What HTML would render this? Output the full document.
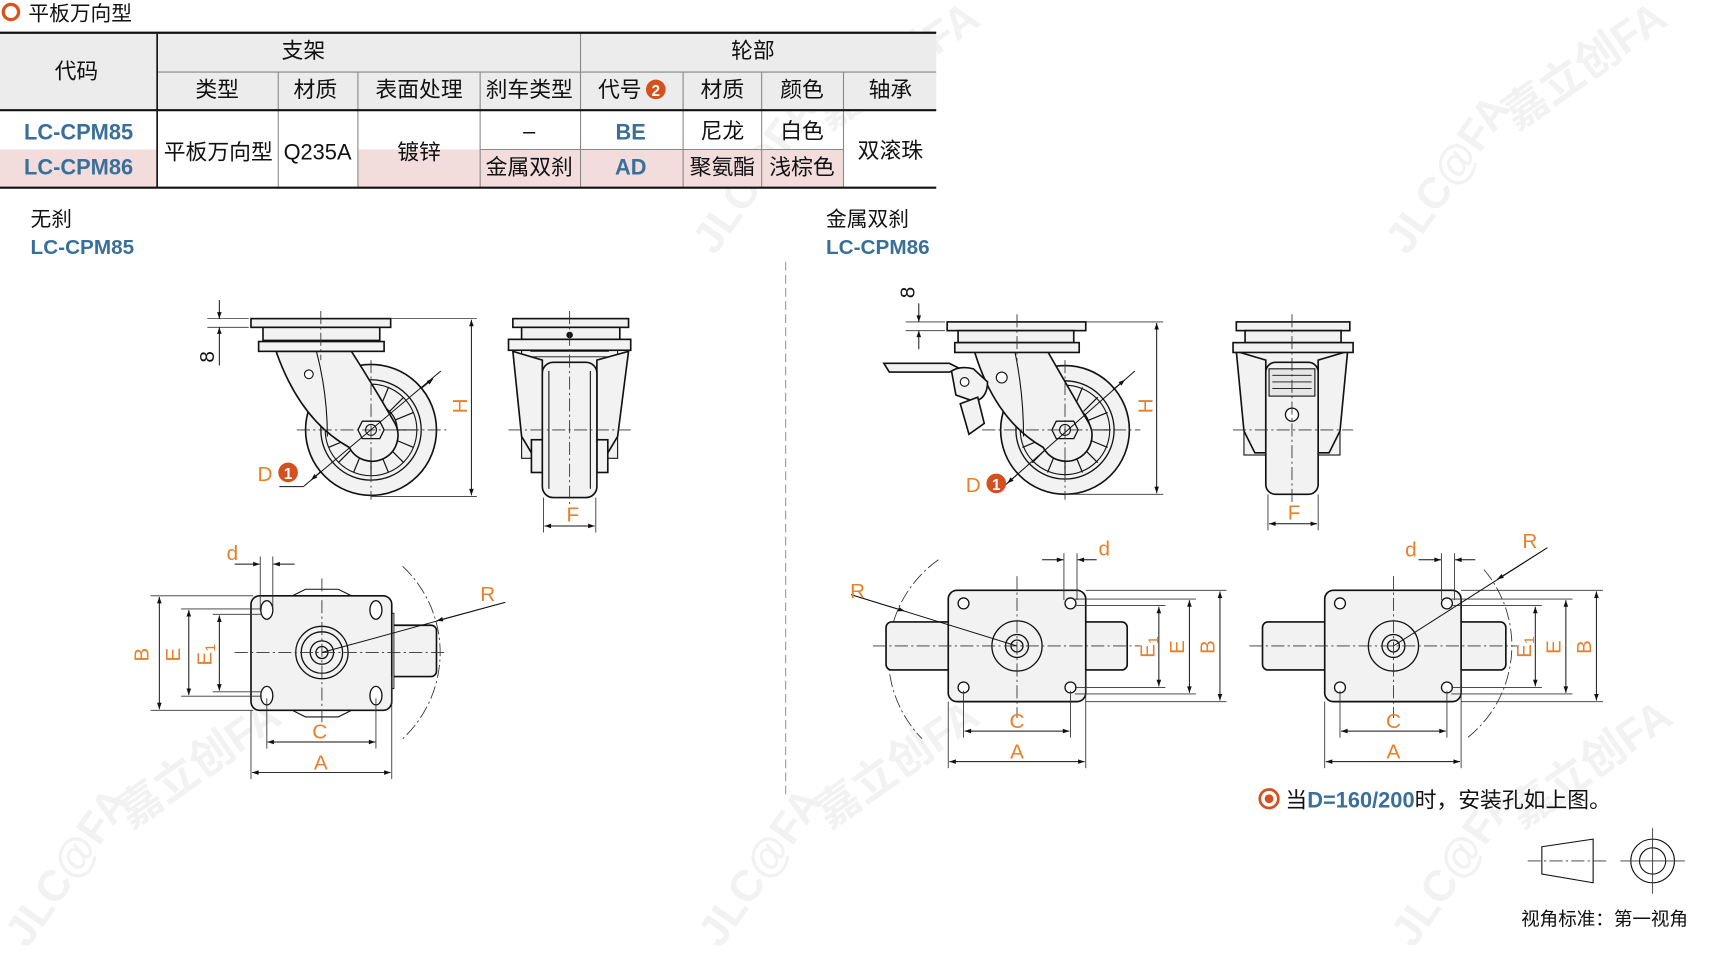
<!DOCTYPE html>
<html><head><meta charset="utf-8"><style>
html,body{margin:0;padding:0;background:#fff;}
svg{display:block;}
text{font-family:"Liberation Sans","Noto Sans CJK SC",sans-serif;}
.cj{font-family:"Noto Sans CJK SC","Liberation Sans",sans-serif;}
.o{fill:#e8802a;font-size:19px;font-family:"Liberation Sans",sans-serif;}
.ln{stroke:#111;stroke-width:1;fill:none;}
.dm{stroke:#111;stroke-width:0.9;fill:none;}
.ex{stroke:#333;stroke-width:0.8;fill:none;}
.cl{stroke:#333;stroke-width:0.8;fill:none;stroke-dasharray:12 3 2 3;}
.pt{fill:#f2f2f2;stroke:#111;stroke-width:1.5;}
.wm{fill:#f2f2f2;font-weight:bold;}
</style></head><body>
<svg width="1711" height="955" viewBox="0 0 1568 875.2" xmlns="http://www.w3.org/2000/svg">
<defs>
<marker id="a" viewBox="0 0 10 10" refX="10" refY="5" markerWidth="9" markerHeight="6" orient="auto-start-reverse" markerUnits="userSpaceOnUse"><path d="M0,1.5 L10,5 L0,8.5 Z" fill="#111"/></marker>
</defs>

<!-- watermarks -->
<g class="wm cj">
<text x="0" y="0" font-size="40" transform="translate(655,235) rotate(-55)">JLC@FA</text>
<text x="0" y="0" font-size="40" transform="translate(760,120) rotate(-35)">嘉立创FA</text>
<text x="0" y="0" font-size="40" transform="translate(1290,235) rotate(-55)">JLC@FA</text>
<text x="0" y="0" font-size="40" transform="translate(1390,120) rotate(-35)">嘉立创FA</text>
<text x="0" y="0" font-size="40" transform="translate(25,870) rotate(-55)">JLC@FA</text>
<text x="0" y="0" font-size="40" transform="translate(120,760) rotate(-35)">嘉立创FA</text>
<text x="0" y="0" font-size="40" transform="translate(660,870) rotate(-55)">JLC@FA</text>
<text x="0" y="0" font-size="40" transform="translate(760,760) rotate(-35)">嘉立创FA</text>
<text x="0" y="0" font-size="40" transform="translate(1295,870) rotate(-55)">JLC@FA</text>
<text x="0" y="0" font-size="40" transform="translate(1395,760) rotate(-35)">嘉立创FA</text>
</g>

<!-- title -->
<circle cx="10" cy="11" r="7" fill="none" stroke="#d9531e" stroke-width="3"/>
<text x="26" y="19" font-size="19" class="cj" fill="#111">平板万向型</text>

<!-- table -->
<rect x="0" y="31" width="858" height="70" fill="#ececec"/>
<rect x="0" y="137" width="144" height="35" fill="#f2dcdc"/>
<rect x="328" y="137" width="445" height="35" fill="#f2dcdc"/>
<g stroke="#888" stroke-width="1">
<line x1="144" y1="66" x2="858" y2="66"/>
<line x1="532" y1="31" x2="532" y2="172"/>
<line x1="255" y1="66" x2="255" y2="172"/>
<line x1="328" y1="66" x2="328" y2="172"/>
<line x1="440" y1="66" x2="440" y2="172"/>
<line x1="626" y1="66" x2="626" y2="172"/>
<line x1="698" y1="66" x2="698" y2="172"/>
<line x1="773" y1="66" x2="773" y2="172"/>
<line x1="440" y1="137" x2="773" y2="137"/>
</g>
<line x1="144" y1="31" x2="144" y2="172" stroke="#111" stroke-width="1.5"/>
<line x1="0" y1="30" x2="858" y2="30" stroke="#111" stroke-width="2"/>
<line x1="0" y1="101" x2="858" y2="101" stroke="#111" stroke-width="2"/>
<line x1="0" y1="172" x2="858" y2="172" stroke="#111" stroke-width="2"/>
<g class="cj" font-size="20" fill="#111" text-anchor="middle">
<text x="70" y="72">代码</text>
<text x="278" y="53">支架</text>
<text x="690" y="53">轮部</text>
<text x="199" y="89">类型</text>
<text x="289" y="89">材质</text>
<text x="384" y="89">表面处理</text>
<text x="485" y="89">刹车类型</text>
<text x="568" y="89">代号</text>
<text x="662" y="89">材质</text>
<text x="735" y="89">颜色</text>
<text x="816" y="89">轴承</text>
<text x="200" y="146">平板万向型</text>
<text x="291" y="146">Q235A</text>
<text x="384" y="146">镀锌</text>
<text x="485" y="127">–</text>
<text x="485" y="160">金属双刹</text>
<text x="662" y="127">尼龙</text>
<text x="662" y="160">聚氨酯</text>
<text x="735" y="127">白色</text>
<text x="735" y="160">浅棕色</text>
<text x="816" y="145">双滚珠</text>
</g>
<circle cx="601" cy="82" r="9" fill="#d4501e"/>
<text x="601" y="88" font-size="14" font-weight="bold" fill="#fff" text-anchor="middle">2</text>
<g font-size="20" font-weight="bold" fill="#3a6f9a" text-anchor="middle">
<text x="72" y="128">LC-CPM85</text>
<text x="72" y="160">LC-CPM86</text>
<text x="578" y="128">BE</text>
<text x="578" y="160">AD</text>
</g>

<!-- section labels -->
<text x="28" y="207" font-size="19" class="cj" fill="#111">无刹</text>
<text x="28" y="233" font-size="19" font-weight="bold" fill="#3a6f9a">LC-CPM85</text>
<text x="757" y="207" font-size="19" class="cj" fill="#111">金属双刹</text>
<text x="757" y="233" font-size="19" font-weight="bold" fill="#3a6f9a">LC-CPM86</text>
<line x1="720" y1="240" x2="720" y2="730" stroke="#999" stroke-width="1" stroke-dasharray="8 4"/>

<!-- ===== LEFT SIDE VIEW ===== -->
<g id="sv1">
<circle cx="340" cy="394" r="60" class="pt" stroke-width="2"/>
<circle cx="340" cy="394" r="46" fill="none" stroke="#111" stroke-width="1.2"/>
<circle cx="340" cy="394" r="42" fill="none" stroke="#111" stroke-width="1"/>
<g stroke="#111" stroke-width="1.1">
<line x1="364" y1="394" x2="382" y2="394"/><line x1="362" y1="403" x2="379" y2="410"/><line x1="357" y1="411" x2="370" y2="424"/><line x1="349" y1="416" x2="356" y2="433"/><line x1="340" y1="418" x2="340" y2="436"/><line x1="331" y1="416" x2="324" y2="433"/><line x1="323" y1="411" x2="310" y2="424"/><line x1="318" y1="403" x2="301" y2="410"/><line x1="316" y1="394" x2="298" y2="394"/><line x1="318" y1="385" x2="301" y2="378"/><line x1="323" y1="377" x2="310" y2="364"/><line x1="331" y1="372" x2="324" y2="355"/><line x1="340" y1="370" x2="340" y2="352"/><line x1="349" y1="372" x2="356" y2="355"/><line x1="357" y1="377" x2="370" y2="364"/><line x1="362" y1="385" x2="379" y2="378"/>
</g>
<circle cx="340" cy="394" r="24" fill="#f2f2f2" stroke="#111" stroke-width="1.2"/>
<path d="M253 322 L322 322 Q340 350 362 388 A23 23 0 0 1 320 410 Q275 385 253 322 Z" class="pt"/>
<path d="M290 322 Q300 360 300 400" class="ln" stroke-width="1.2"/>
<polygon points="332,386 348,386 352,394 348,402 332,402 328,394" fill="#f2f2f2" stroke="#111" stroke-width="1.2"/>
<circle cx="340" cy="394" r="5" fill="none" stroke="#111"/>
<circle cx="283" cy="343" r="4" fill="#fff" stroke="#111"/>
<rect x="230" y="292" width="128" height="8" class="pt"/>
<rect x="241" y="300" width="107" height="12" class="pt"/>
<rect x="237" y="313" width="115" height="9" class="pt"/>
<line x1="294" y1="285" x2="294" y2="330" class="cl"/>
<line x1="340" y1="330" x2="340" y2="458" class="cl"/>
<line x1="272" y1="394" x2="412" y2="394" class="cl"/>
<line x1="358" y1="292" x2="437" y2="292" class="ex"/>
<line x1="340" y1="455" x2="437" y2="455" class="ex"/>
<line x1="432" y1="293" x2="432" y2="454" class="dm" marker-start="url(#a)" marker-end="url(#a)"/>
<text class="o" transform="translate(428,372) rotate(-90)" text-anchor="middle">H</text>
<line x1="190" y1="292" x2="228" y2="292" class="ex"/>
<line x1="190" y1="300" x2="228" y2="300" class="ex"/>
<line x1="201" y1="275" x2="201" y2="292" class="dm" marker-end="url(#a)"/>
<line x1="201" y1="335" x2="201" y2="300" class="dm" marker-end="url(#a)"/>
<text class="o" transform="translate(196,327) rotate(-90)" text-anchor="middle" style="fill:#111">8</text>
<line x1="404" y1="340" x2="278" y2="446" class="dm"/>
<line x1="386" y1="356" x2="397" y2="347" class="dm" marker-end="url(#a)"/>
<line x1="294" y1="432" x2="285" y2="440" class="dm" marker-end="url(#a)"/>
<line x1="278" y1="446" x2="256" y2="446" class="dm"/>
<text class="o" x="236" y="441">D</text>
<circle cx="264" cy="433" r="9" fill="#d4501e"/>
<text x="264" y="439" font-size="14" font-weight="bold" fill="#fff" text-anchor="middle">1</text>
</g>

<!-- LEFT FRONT VIEW -->
<g>
<rect x="478" y="320" width="88" height="100" fill="#f2f2f2" stroke="#111" stroke-width="1"/>
<path d="M470 322 L478 400 L490 420 L497 420 L497 330 Z" class="pt" stroke-width="1.2"/>
<path d="M576 322 L566 400 L554 420 L547 420 L547 330 Z" class="pt" stroke-width="1.2"/>
<rect x="487" y="403" width="10" height="30" class="pt" stroke-width="1"/>
<rect x="547" y="403" width="10" height="30" class="pt" stroke-width="1"/>
<rect x="497" y="332" width="50" height="124" rx="10" class="pt"/>
<line x1="503" y1="340" x2="503" y2="448" class="ln" stroke-width="0.8"/>
<line x1="541" y1="340" x2="541" y2="448" class="ln" stroke-width="0.8"/>
<rect x="470" y="292" width="106" height="8" class="pt"/>
<rect x="478" y="300" width="90" height="11" class="pt"/>
<rect x="466" y="311" width="112" height="10" class="pt"/>
<circle cx="522" cy="307" r="3" fill="#111"/>
<g stroke="#111" stroke-width="0.8"><line x1="486" y1="322" x2="558" y2="322"/><line x1="486" y1="327" x2="558" y2="327"/></g>
<line x1="522" y1="285" x2="522" y2="462" class="cl"/>
<line x1="466" y1="394" x2="578" y2="394" class="cl"/>
<line x1="498" y1="456" x2="498" y2="488" class="ex"/>
<line x1="546" y1="456" x2="546" y2="488" class="ex"/>
<line x1="499" y1="482" x2="545" y2="482" class="dm" marker-start="url(#a)" marker-end="url(#a)"/>
<text class="o" x="525" y="478" text-anchor="middle">F</text>
</g>

<!-- LEFT TOP VIEW -->
<g>
<path d="M369 519 A108 108 0 0 1 369 677" class="cl"/>
<path d="M268 546 L280 540 L310 540 L322 546" class="ln"/>
<path d="M268 651 L280 657 L310 657 L322 651" class="ln"/>
<rect x="355" y="573" width="45" height="47" rx="5" class="pt" stroke-width="1.2"/>
<rect x="356" y="562" width="5" height="69" fill="#eee" stroke="#111" stroke-width="0.8"/>
<rect x="230" y="546" width="129" height="105" rx="8" class="pt"/>
<g fill="#fff" stroke="#111" stroke-width="1.2">
<ellipse cx="244.5" cy="559" rx="5.5" ry="8.5"/><ellipse cx="344.5" cy="559" rx="5.5" ry="8.5"/>
<ellipse cx="244.5" cy="637.5" rx="5.5" ry="8.5"/><ellipse cx="344.5" cy="637.5" rx="5.5" ry="8.5"/>
</g>
<g fill="none" stroke="#111" stroke-width="1.2">
<circle cx="295" cy="598" r="24"/><circle cx="295" cy="598" r="19"/><circle cx="295" cy="598" r="10.7"/><circle cx="295" cy="598" r="5.5"/>
</g>
<line x1="295" y1="530" x2="295" y2="665" class="cl"/>
<line x1="215" y1="598" x2="410" y2="598" class="cl"/>
<line x1="138" y1="546" x2="232" y2="546" class="ex"/>
<line x1="138" y1="651" x2="232" y2="651" class="ex"/>
<line x1="146" y1="547" x2="146" y2="650" class="dm" marker-start="url(#a)" marker-end="url(#a)"/>
<text class="o" transform="translate(136,600) rotate(-90)" text-anchor="middle">B</text>
<line x1="166" y1="558" x2="240" y2="558" class="ex"/>
<line x1="166" y1="638" x2="240" y2="638" class="ex"/>
<line x1="173" y1="559" x2="173" y2="637" class="dm" marker-start="url(#a)" marker-end="url(#a)"/>
<text class="o" transform="translate(165,600) rotate(-90)" text-anchor="middle">E</text>
<line x1="195" y1="563" x2="240" y2="563" class="ex"/>
<line x1="195" y1="634" x2="240" y2="634" class="ex"/>
<line x1="201" y1="564" x2="201" y2="633" class="dm" marker-start="url(#a)" marker-end="url(#a)"/>
<text class="o" transform="translate(194,600) rotate(-90)" text-anchor="middle">E<tspan font-size="13" dy="3">1</tspan></text>
<line x1="238.5" y1="510" x2="238.5" y2="560" class="ex"/>
<line x1="250" y1="510" x2="250" y2="560" class="ex"/>
<line x1="215" y1="517" x2="238" y2="517" class="dm" marker-end="url(#a)"/>
<line x1="270" y1="517" x2="250.5" y2="517" class="dm" marker-end="url(#a)"/>
<text class="o" x="213" y="513" text-anchor="middle">d</text>
<line x1="244.5" y1="640" x2="244.5" y2="686" class="ex"/>
<line x1="344.5" y1="640" x2="344.5" y2="686" class="ex"/>
<line x1="245" y1="680" x2="344" y2="680" class="dm" marker-start="url(#a)" marker-end="url(#a)"/>
<text class="o" x="293" y="677" text-anchor="middle">C</text>
<line x1="230" y1="651" x2="230" y2="714" class="ex"/>
<line x1="359" y1="620" x2="359" y2="714" class="ex"/>
<line x1="231" y1="708" x2="358" y2="708" class="dm" marker-start="url(#a)" marker-end="url(#a)"/>
<text class="o" x="294" y="705" text-anchor="middle">A</text>
<line x1="295" y1="598" x2="463" y2="552" class="dm"/>
<line x1="463" y1="552" x2="400" y2="569" class="dm" marker-end="url(#a)"/>
<text class="o" x="447" y="551" text-anchor="middle">R</text>
</g>

<!-- ===== RIGHT SIDE VIEW (brake) ===== -->
<g>
<circle cx="976" cy="394" r="59" class="pt" stroke-width="2"/>
<circle cx="976" cy="394" r="45" fill="none" stroke="#111" stroke-width="1.2"/>
<circle cx="976" cy="394" r="41" fill="none" stroke="#111" stroke-width="1"/>
<g stroke="#111" stroke-width="1.1" transform="translate(636,0)">
<line x1="364" y1="394" x2="382" y2="394"/><line x1="362" y1="403" x2="379" y2="410"/><line x1="357" y1="411" x2="370" y2="424"/><line x1="349" y1="416" x2="356" y2="433"/><line x1="340" y1="418" x2="340" y2="436"/><line x1="331" y1="416" x2="324" y2="433"/><line x1="323" y1="411" x2="310" y2="424"/><line x1="318" y1="403" x2="301" y2="410"/><line x1="316" y1="394" x2="298" y2="394"/><line x1="318" y1="385" x2="301" y2="378"/><line x1="323" y1="377" x2="310" y2="364"/><line x1="331" y1="372" x2="324" y2="355"/><line x1="340" y1="370" x2="340" y2="352"/><line x1="349" y1="372" x2="356" y2="355"/><line x1="357" y1="377" x2="370" y2="364"/><line x1="362" y1="385" x2="379" y2="378"/>
</g>
<circle cx="976" cy="394" r="23" fill="#f2f2f2" stroke="#111" stroke-width="1.2"/>
<path d="M893 322 L960 322 Q976 350 998 388 A23 23 0 0 1 956 410 Q912 385 893 322 Z" class="pt"/>
<path d="M930 322 Q938 360 938 400" class="ln" stroke-width="1.2"/>
<polygon points="968,386 984,386 988,394 984,402 968,402 964,394" fill="#f2f2f2" stroke="#111" stroke-width="1.2"/>
<circle cx="976" cy="394" r="5" fill="none" stroke="#111"/>
<path d="M810 333 L870 333 L880 338 L870 341 L815 341 Z" class="pt" stroke-width="1.2"/>
<path d="M872 340 Q880 335 892 338 L905 350 Q905 365 893 368 L876 362 Z" class="pt" stroke-width="1.2"/>
<circle cx="884" cy="350" r="4" fill="#fff" stroke="#111"/>
<circle cx="918" cy="346" r="5" fill="#fff" stroke="#111"/>
<path d="M880 370 L896 364 L902 388 L888 398 Z" class="pt" stroke-width="1.2"/>
<rect x="868" y="295" width="127" height="8" class="pt"/>
<rect x="878" y="303" width="106" height="11" class="pt"/>
<rect x="875" y="314" width="114" height="9" class="pt"/>
<line x1="932" y1="288" x2="932" y2="332" class="cl"/>
<line x1="976" y1="330" x2="976" y2="458" class="cl"/>
<line x1="900" y1="394" x2="1045" y2="394" class="cl"/>
<line x1="995" y1="295" x2="1066" y2="295" class="ex"/>
<line x1="976" y1="453" x2="1066" y2="453" class="ex"/>
<line x1="1060" y1="296" x2="1060" y2="452" class="dm" marker-start="url(#a)" marker-end="url(#a)"/>
<text class="o" transform="translate(1056,372) rotate(-90)" text-anchor="middle">H</text>
<line x1="830" y1="295" x2="866" y2="295" class="ex"/>
<line x1="830" y1="303" x2="866" y2="303" class="ex"/>
<line x1="842" y1="278" x2="842" y2="295" class="dm" marker-end="url(#a)"/>
<line x1="842" y1="320" x2="842" y2="303" class="dm" marker-end="url(#a)"/>
<text class="o" transform="translate(838,268) rotate(-90)" text-anchor="middle" style="fill:#111">8</text>
<line x1="1040" y1="340" x2="915" y2="450" class="dm"/>
<line x1="1020" y1="357" x2="1031" y2="348" class="dm" marker-end="url(#a)"/>
<line x1="932" y1="435" x2="923" y2="443" class="dm" marker-end="url(#a)"/>
<text class="o" x="885" y="451">D</text>
<circle cx="913" cy="443" r="9" fill="#d4501e"/>
<text x="913" y="449" font-size="14" font-weight="bold" fill="#fff" text-anchor="middle">1</text>
</g>

<!-- RIGHT FRONT VIEW -->
<g>
<rect x="1140" y="322" width="88" height="95" fill="#f2f2f2" stroke="#111" stroke-width="1"/>
<path d="M1133 322 L1140 395 L1150 415 L1160 415 L1160 330 Z" class="pt" stroke-width="1.2"/>
<path d="M1235 322 L1228 395 L1218 415 L1208 415 L1208 330 Z" class="pt" stroke-width="1.2"/>
<rect x="1160" y="332" width="48" height="121" rx="9" class="pt"/>
<rect x="1163" y="338" width="42" height="25" fill="#e6e6e6" stroke="#111" stroke-width="1"/>
<g stroke="#111" stroke-width="0.8"><line x1="1166" y1="344" x2="1202" y2="344"/><line x1="1166" y1="350" x2="1202" y2="350"/><line x1="1166" y1="356" x2="1202" y2="356"/></g>
<rect x="1133" y="295" width="104" height="8" class="pt"/>
<rect x="1141" y="303" width="88" height="11" class="pt"/>
<rect x="1130" y="314" width="110" height="9" class="pt"/>
<circle cx="1184" cy="380" r="6" fill="#fff" stroke="#111" stroke-width="1.2"/>
<line x1="1184" y1="288" x2="1184" y2="460" class="cl"/>
<line x1="1130" y1="394" x2="1240" y2="394" class="cl"/>
<line x1="1162" y1="453" x2="1162" y2="486" class="ex"/>
<line x1="1208" y1="453" x2="1208" y2="486" class="ex"/>
<line x1="1163" y1="480" x2="1207" y2="480" class="dm" marker-start="url(#a)" marker-end="url(#a)"/>
<text class="o" x="1186" y="476" text-anchor="middle">F</text>
</g>

<!-- RIGHT TOP VIEW 1 -->
<g>
<path d="M860 513 A108 108 0 0 0 845 677" class="cl"/>
<rect x="812" y="570" width="62" height="44" rx="5" class="pt" stroke-width="1.2"/>
<rect x="990" y="570" width="43" height="44" rx="5" class="pt" stroke-width="1.2"/>
<rect x="869" y="541" width="126" height="102" rx="8" class="pt"/>
<g fill="#fff" stroke="#111" stroke-width="1.2">
<circle cx="883" cy="553" r="5"/><circle cx="981" cy="553" r="5"/><circle cx="883" cy="630" r="5"/><circle cx="981" cy="630" r="5"/>
</g>
<g fill="none" stroke="#111" stroke-width="1.2"><circle cx="932" cy="592" r="23"/><circle cx="932" cy="592" r="10.5"/><circle cx="932" cy="592" r="5.5"/></g>
<line x1="932" y1="528" x2="932" y2="658" class="cl"/>
<line x1="800" y1="592" x2="1045" y2="592" class="cl"/>
<line x1="985" y1="555" x2="1068" y2="555" class="ex"/>
<line x1="985" y1="630" x2="1068" y2="630" class="ex"/>
<line x1="1062" y1="556" x2="1062" y2="629" class="dm" marker-start="url(#a)" marker-end="url(#a)"/>
<text class="o" transform="translate(1058,593) rotate(-90)" text-anchor="middle">E<tspan font-size="13" dy="3">1</tspan></text>
<line x1="985" y1="549" x2="1096" y2="549" class="ex"/>
<line x1="985" y1="636" x2="1096" y2="636" class="ex"/>
<line x1="1090" y1="550" x2="1090" y2="635" class="dm" marker-start="url(#a)" marker-end="url(#a)"/>
<text class="o" transform="translate(1085,593) rotate(-90)" text-anchor="middle">E</text>
<line x1="995" y1="541" x2="1124" y2="541" class="ex"/>
<line x1="995" y1="643" x2="1124" y2="643" class="ex"/>
<line x1="1118" y1="542" x2="1118" y2="642" class="dm" marker-start="url(#a)" marker-end="url(#a)"/>
<text class="o" transform="translate(1113,593) rotate(-90)" text-anchor="middle">B</text>
<line x1="975" y1="507" x2="975" y2="550" class="ex"/>
<line x1="987" y1="507" x2="987" y2="550" class="ex"/>
<line x1="955" y1="513" x2="974.5" y2="513" class="dm" marker-end="url(#a)"/>
<line x1="1005" y1="513" x2="987.5" y2="513" class="dm" marker-end="url(#a)"/>
<text class="o" x="1012" y="509" text-anchor="middle">d</text>
<line x1="883" y1="633" x2="883" y2="676" class="ex"/>
<line x1="981" y1="633" x2="981" y2="676" class="ex"/>
<line x1="884" y1="670" x2="980" y2="670" class="dm" marker-start="url(#a)" marker-end="url(#a)"/>
<text class="o" x="932" y="667" text-anchor="middle">C</text>
<line x1="869" y1="643" x2="869" y2="704" class="ex"/>
<line x1="995" y1="614" x2="995" y2="704" class="ex"/>
<line x1="870" y1="698" x2="994" y2="698" class="dm" marker-start="url(#a)" marker-end="url(#a)"/>
<text class="o" x="932" y="695" text-anchor="middle">A</text>
<line x1="932" y1="592" x2="780" y2="545" class="dm"/>
<line x1="780" y1="545" x2="829" y2="560" class="dm" marker-end="url(#a)"/>
<text class="o" x="786" y="548" text-anchor="middle">R</text>
</g>

<!-- RIGHT TOP VIEW 2 -->
<g>
<path d="M1360 522 A108 108 0 0 1 1345 676" class="cl"/>
<rect x="1157" y="570" width="62" height="44" rx="5" class="pt" stroke-width="1.2"/>
<rect x="1334" y="570" width="46" height="44" rx="5" class="pt" stroke-width="1.2"/>
<rect x="1214" y="541" width="125" height="102" rx="8" class="pt"/>
<g fill="#fff" stroke="#111" stroke-width="1.2">
<circle cx="1228" cy="553" r="5"/><circle cx="1326" cy="553" r="5"/><circle cx="1228" cy="630" r="5"/><circle cx="1326" cy="630" r="5"/>
</g>
<g fill="none" stroke="#111" stroke-width="1.2"><circle cx="1277" cy="592" r="23"/><circle cx="1277" cy="592" r="10.5"/><circle cx="1277" cy="592" r="5.5"/></g>
<line x1="1277" y1="528" x2="1277" y2="658" class="cl"/>
<line x1="1145" y1="592" x2="1392" y2="592" class="cl"/>
<line x1="1330" y1="555" x2="1413" y2="555" class="ex"/>
<line x1="1330" y1="630" x2="1413" y2="630" class="ex"/>
<line x1="1407" y1="556" x2="1407" y2="629" class="dm" marker-start="url(#a)" marker-end="url(#a)"/>
<text class="o" transform="translate(1403,593) rotate(-90)" text-anchor="middle">E<tspan font-size="13" dy="3">1</tspan></text>
<line x1="1330" y1="549" x2="1441" y2="549" class="ex"/>
<line x1="1330" y1="636" x2="1441" y2="636" class="ex"/>
<line x1="1435" y1="550" x2="1435" y2="635" class="dm" marker-start="url(#a)" marker-end="url(#a)"/>
<text class="o" transform="translate(1430,593) rotate(-90)" text-anchor="middle">E</text>
<line x1="1339" y1="541" x2="1469" y2="541" class="ex"/>
<line x1="1339" y1="643" x2="1469" y2="643" class="ex"/>
<line x1="1463" y1="542" x2="1463" y2="642" class="dm" marker-start="url(#a)" marker-end="url(#a)"/>
<text class="o" transform="translate(1458,593) rotate(-90)" text-anchor="middle">B</text>
<line x1="1321" y1="507" x2="1321" y2="550" class="ex"/>
<line x1="1333" y1="507" x2="1333" y2="550" class="ex"/>
<line x1="1300" y1="513" x2="1320.5" y2="513" class="dm" marker-end="url(#a)"/>
<line x1="1352" y1="513" x2="1333.5" y2="513" class="dm" marker-end="url(#a)"/>
<text class="o" x="1293" y="510" text-anchor="middle">d</text>
<line x1="1228" y1="633" x2="1228" y2="676" class="ex"/>
<line x1="1326" y1="633" x2="1326" y2="676" class="ex"/>
<line x1="1229" y1="670" x2="1325" y2="670" class="dm" marker-start="url(#a)" marker-end="url(#a)"/>
<text class="o" x="1277" y="667" text-anchor="middle">C</text>
<line x1="1214" y1="643" x2="1214" y2="704" class="ex"/>
<line x1="1339" y1="614" x2="1339" y2="704" class="ex"/>
<line x1="1215" y1="698" x2="1338" y2="698" class="dm" marker-start="url(#a)" marker-end="url(#a)"/>
<text class="o" x="1277" y="695" text-anchor="middle">A</text>
<line x1="1277" y1="592" x2="1418" y2="502" class="dm"/>
<line x1="1418" y1="502" x2="1372" y2="531" class="dm" marker-end="url(#a)"/>
<text class="o" x="1402" y="502" text-anchor="middle">R</text>
</g>

<!-- note -->
<circle cx="1163" cy="732" r="8.5" fill="none" stroke="#d4501e" stroke-width="2.5"/>
<circle cx="1163" cy="732" r="4" fill="#d4501e"/>
<text x="1178" y="740" font-size="20" class="cj" fill="#111">当<tspan fill="#3a6f9a" font-weight="bold" font-family="Liberation Sans, sans-serif">D=160/200</tspan>时，安装孔如上图。</text>

<!-- projection symbol -->
<polygon points="1413,776 1460,769 1460,809 1413,801" fill="none" stroke="#111" stroke-width="1"/>
<line x1="1400" y1="789" x2="1475" y2="789" class="cl"/>
<circle cx="1514.5" cy="789" r="20" fill="none" stroke="#111" stroke-width="1"/>
<circle cx="1514.5" cy="789" r="12" fill="none" stroke="#111" stroke-width="1"/>
<line x1="1485" y1="789" x2="1544" y2="789" class="ex"/>
<line x1="1514.5" y1="759" x2="1514.5" y2="819" class="ex"/>
<text x="1394" y="848" font-size="17" class="cj" fill="#111">视角标准：第一视角</text>
</svg>
</body></html>
